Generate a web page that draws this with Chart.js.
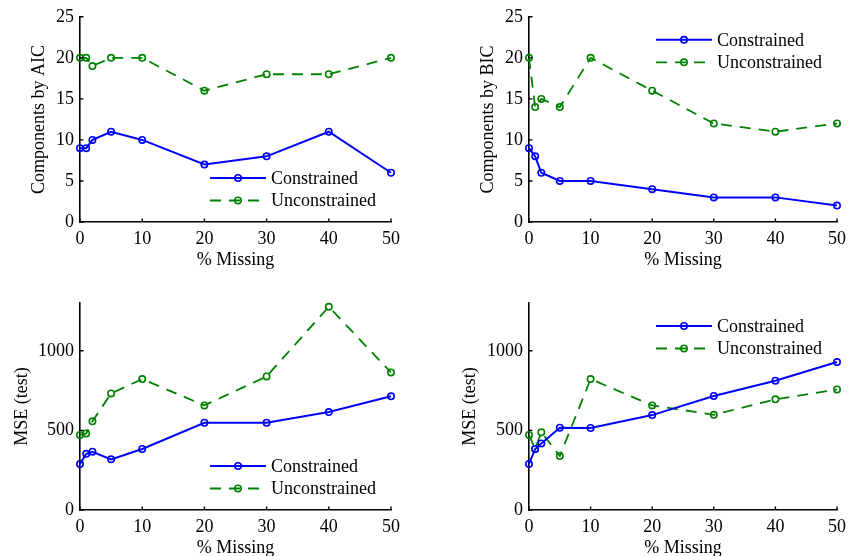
<!DOCTYPE html>
<html><head><meta charset="utf-8">
<script src="https://cdn.jsdelivr.net/npm/chart.js@4"></script>
<style>
html,body{margin:0;padding:0;background:#fff;overflow:hidden;width:852px;height:556px}
.p{position:absolute}
</style></head><body>
<div class="p" style="left:0;top:0;width:426px;height:278px"><canvas id="c0"></canvas></div>
<div class="p" style="left:426px;top:0;width:426px;height:278px"><canvas id="c1"></canvas></div>
<div class="p" style="left:0;top:278px;width:426px;height:288px"><canvas id="c2"></canvas></div>
<div class="p" style="left:426px;top:278px;width:426px;height:288px"><canvas id="c3"></canvas></div>
<script>
const missingPct = [0, 1, 2, 5, 10, 20, 30, 40, 50];
const seriesNames = ['Constrained', 'Unconstrained'];
const aicConstrained = [9, 9, 10, 11, 10, 7, 8, 11, 6];
const aicUnconstrained = [20, 20, 19, 20, 20, 16, 18, 18, 20];
const bicConstrained = [9, 8, 6, 5, 5, 4, 3, 3, 2];
const bicUnconstrained = [20, 14, 15, 14, 20, 16, 12, 11, 12];
const mseLeftConstrained = [289, 353, 366, 318, 383, 548, 548, 615, 714];
const mseLeftUnconstrained = [471, 481, 557, 732, 822, 657, 839, 1276, 864];
const mseRightConstrained = [289, 383, 418, 517, 515, 596, 716, 812, 929];
const mseRightUnconstrained = [471, 383, 488, 339, 822, 657, 598, 695, 757];
const xTicks = [0, 10, 20, 30, 40, 50];
const compTicks = [0, 5, 10, 15, 20, 25];
const mseTicks = [0, 500, 1000];
const xTitle = '% Missing';

const FONT = '"Liberation Serif", "Times New Roman", serif';

const inwardTicks = {
  id: 'inwardTicks',
  afterDraw(chart) {
    const ctx = chart.ctx, a = chart.chartArea;
    const xs = chart.scales.x, ys = chart.scales.y;
    ctx.save();
    ctx.strokeStyle = '#000'; ctx.lineWidth = 1.4;
    ctx.beginPath();
    xs.ticks.forEach(t => { const p = xs.getPixelForValue(t.value); ctx.moveTo(p, a.bottom); ctx.lineTo(p, a.bottom - 3.5); });
    ys.ticks.forEach(t => { const p = ys.getPixelForValue(t.value); ctx.moveTo(a.left, p); ctx.lineTo(a.left + 3.5, p); });
    ctx.stroke();
    ctx.restore();
  }
};

const lineLegend = {
  id: 'lineLegend',
  afterDatasetsDraw(chart, args, opts) {
    const ctx = chart.ctx, a = chart.chartArea;
    const x0 = a.right - 181;
    const y0 = opts.corner === 'ne' ? a.top + 23 : a.bottom - 44;
    chart.data.datasets.forEach((ds, i) => {
      const y = y0 + i * 22.5;
      ctx.save();
      ctx.strokeStyle = ds.borderColor; ctx.lineWidth = ds.borderWidth;
      ctx.setLineDash(ds.borderDash || []);
      ctx.beginPath(); ctx.moveTo(x0, y); ctx.lineTo(x0 + 56, y); ctx.stroke();
      ctx.setLineDash([]);
      ctx.lineWidth = ds.pointBorderWidth;
      ctx.beginPath(); ctx.arc(x0 + 28, y, ds.pointRadius, 0, Math.PI * 2); ctx.stroke();
      ctx.fillStyle = '#000'; ctx.font = '18px ' + FONT; ctx.textBaseline = 'middle';
      ctx.fillText(ds.label, x0 + 61, y + 1);
      ctx.restore();
    });
  }
};

function makeChart(id, yTitle, yMax, yTicks, cVals, uVals, corner, pad, yTitleOffset) {
  const toPts = vals => missingPct.map((x, i) => ({ x: x, y: vals[i] }));
  new Chart(document.getElementById(id), {
    type: 'line',
    data: {
      datasets: [
        { label: seriesNames[0], data: toPts(cVals), borderColor: 'rgb(0,0,255)', borderWidth: 2,
          pointRadius: 3.2, pointBorderWidth: 1.6, pointBorderColor: 'rgb(0,0,255)', pointBackgroundColor: 'rgba(0,0,0,0)',
          fill: false, tension: 0, clip: false },
        { label: seriesNames[1], data: toPts(uVals), borderColor: 'rgb(0,128,0)', borderWidth: 1.8, borderDash: [11, 8],
          pointRadius: 3.2, pointBorderWidth: 1.6, pointBorderColor: 'rgb(0,128,0)', pointBackgroundColor: 'rgba(0,0,0,0)',
          fill: false, tension: 0, clip: false }
      ]
    },
    options: {
      responsive: true, maintainAspectRatio: false, animation: false, devicePixelRatio: 1,
      layout: { padding: pad },
      plugins: { legend: { display: false }, tooltip: { enabled: false }, lineLegend: { corner: corner } },
      scales: {
        x: {
          type: 'linear', min: 0, max: 50,
          afterBuildTicks: s => { s.ticks = xTicks.map(v => ({ value: v })); },
          afterFit: s => { s.height = 56; },
          grid: { display: true, drawOnChartArea: false, drawTicks: false },
          border: { display: true, color: '#000', width: 1.6 },
          ticks: { color: '#000', font: { family: FONT, size: 18 }, padding: 6, maxRotation: 0, autoSkip: false,
                   callback: v => String(v) },
          title: { display: true, text: xTitle, color: '#000', font: { family: FONT, size: 18 }, padding: { top: 0, bottom: 7 } }
        },
        y: {
          type: 'linear', min: 0, max: yMax,
          afterBuildTicks: s => { s.ticks = yTicks.map(v => ({ value: v })); },
          afterFit: s => { s.width = 80; },
          grid: { display: true, drawOnChartArea: false, drawTicks: false },
          border: { display: true, color: '#000', width: 1.6 },
          ticks: { color: '#000', font: { family: FONT, size: 18 }, padding: 6, autoSkip: false,
                   callback: v => String(v) },
          title: { display: true, text: yTitle, color: '#000', font: { family: FONT, size: 18 }, padding: { top: yTitleOffset, bottom: 0 } }
        }
      }
    },
    plugins: [inwardTicks, lineLegend]
  });
}

makeChart('c0', 'Components by AIC', 25, compTicks, aicConstrained, aicUnconstrained, 'se', { left: 0, top: 15, right: 35, bottom: 0 }, 28);
makeChart('c1', 'Components by BIC', 25, compTicks, bicConstrained, bicUnconstrained, 'ne', { left: 23, top: 15, right: 11, bottom: 0 }, 28);
makeChart('c2', 'MSE (test)', 1300, mseTicks, mseLeftConstrained, mseLeftUnconstrained, 'se', { left: 0, top: 25, right: 35, bottom: 0 }, 11);
makeChart('c3', 'MSE (test)', 1300, mseTicks, mseRightConstrained, mseRightUnconstrained, 'ne', { left: 23, top: 25, right: 11, bottom: 0 }, 10);
</script>
</body></html>
